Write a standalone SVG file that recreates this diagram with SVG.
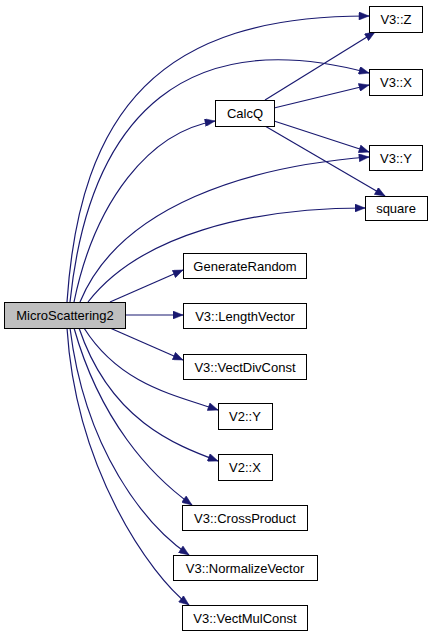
<svg xmlns="http://www.w3.org/2000/svg" width="432" height="639" viewBox="0 0 432 639">
<style>
.n rect{fill:#fff;stroke:#000;stroke-width:1}
.n text{font-family:"Liberation Sans",Arial,sans-serif;font-size:13px;text-anchor:middle;fill:#000}
.e path{fill:none;stroke:#191970;stroke-width:1.2;marker-end:url(#a)}
</style>
<defs>
<marker id="a" viewBox="0 0 10 8" refX="10" refY="4" markerWidth="11" markerHeight="8" markerUnits="userSpaceOnUse" orient="auto">
<path d="M0,0 L10,4 L0,8 z" fill="#191970" stroke="#191970" stroke-width="0.5"/>
</marker>
</defs>
<rect width="432" height="639" fill="#fff"/>
<g class="e" id="edges">
<path d="M67,302 C80,110 160,15 369,16"/>
<path d="M70,302 C90,110 190,25 369,73"/>
<path d="M74,302 C95,200 150,132 215,121"/>
<path d="M80,302 C120,205 250,166 369,157"/>
<path d="M88,302 C140,235 250,208 365,208"/>
<path d="M110,302 L183,270"/>
<path d="M125,315 L183,315"/>
<path d="M110,328 L183,360"/>
<path d="M84,328 C120,385 175,395 218,410"/>
<path d="M79,328 C110,420 175,445 218,461"/>
<path d="M74,328 C100,420 150,475 192,505"/>
<path d="M70,328 C85,450 145,525 189,555"/>
<path d="M67,328 C76,470 150,575 189,605"/>
<path d="M265,100 L375,32"/>
<path d="M274,108 L369,85"/>
<path d="M274,121 L369,152"/>
<path d="M265,126 L385,196"/>
</g>
<g class="n" id="MicroScattering2"><rect x="4.5" y="302.5" width="121" height="26" style="fill:#bfbfbf"/><text x="65" y="320">MicroScattering2</text></g>
<g class="n" id="CalcQ"><rect x="215.5" y="100.5" width="59" height="26"/><text x="245" y="118">CalcQ</text></g>
<g class="n" id="V3_Z"><rect x="369.5" y="6.5" width="53" height="26"/><text x="396" y="24">V3::Z</text></g>
<g class="n" id="V3_X"><rect x="369.5" y="69.5" width="53" height="26"/><text x="396" y="87">V3::X</text></g>
<g class="n" id="V3_Y"><rect x="369.5" y="145.5" width="53" height="25"/><text x="396" y="163">V3::Y</text></g>
<g class="n" id="square"><rect x="365.5" y="196.5" width="62" height="24"/><text x="396" y="213">square</text></g>
<g class="n" id="GenerateRandom"><rect x="183.5" y="253.5" width="123" height="25"/><text x="245" y="271">GenerateRandom</text></g>
<g class="n" id="V3_LengthVector"><rect x="183.5" y="303.5" width="123" height="25"/><text x="245" y="321">V3::LengthVector</text></g>
<g class="n" id="V3_VectDivConst"><rect x="183.5" y="354.5" width="123" height="25"/><text x="245" y="372">V3::VectDivConst</text></g>
<g class="n" id="V2_Y"><rect x="218.5" y="403.5" width="54" height="26"/><text x="245" y="421">V2::Y</text></g>
<g class="n" id="V2_X"><rect x="218.5" y="454.5" width="54" height="26"/><text x="245" y="472">V2::X</text></g>
<g class="n" id="V3_CrossProduct"><rect x="182.5" y="505.5" width="125" height="25"/><text x="245" y="523">V3::CrossProduct</text></g>
<g class="n" id="V3_NormalizeVector"><rect x="173.5" y="555.5" width="144" height="25"/><text x="245" y="573">V3::NormalizeVector</text></g>
<g class="n" id="V3_VectMulConst"><rect x="182.5" y="605.5" width="125" height="25"/><text x="245" y="623">V3::VectMulConst</text></g>
</svg>
